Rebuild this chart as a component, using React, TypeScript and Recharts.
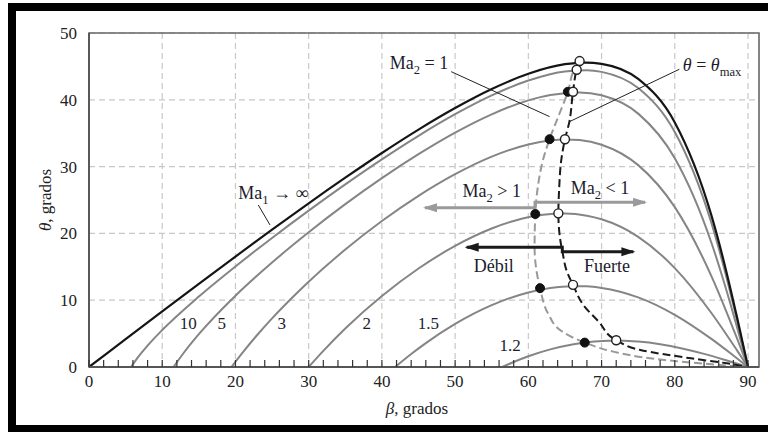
import React from 'react';
import {
  ComposedChart,
  Line,
  XAxis,
  YAxis,
  CartesianGrid,
  ReferenceLine,
  ReferenceDot,
  ReferenceArea,
} from 'recharts';

const FONT = '"Liberation Serif", "Times New Roman", "DejaVu Serif", serif';

// ---------- data: [beta (deg), theta (deg)] ----------
type P = [number, number];

const curveMaInf: P[] = [
  [0, 0], [5, 4.16], [10, 8.32], [15, 12.44], [20, 16.53], [25, 20.56], [30, 24.51],
  [35, 28.34], [40, 32.04], [45, 35.54], [50, 38.76], [55, 41.61], [60, 43.9],
  [65, 45.33], [67.8, 45.58], [70, 45.39], [75, 43.12], [80, 36.61], [85, 22.69],
  [87, 14.46], [88.5, 7.43], [90, 0],
];
const curveMa10: P[] = [
  [5.74, 0], [6.5, 1.19], [8, 3.2], [10, 5.53], [15, 10.54], [20, 15.05], [25, 19.32],
  [30, 23.41], [35, 27.34], [40, 31.09], [45, 34.61], [50, 37.84], [55, 40.66],
  [60, 42.88], [65, 44.24], [68, 44.42], [70, 44.18], [75, 41.76], [80, 35.17],
  [85, 21.55], [87, 13.67], [88.5, 7.01], [90, 0],
];
const curveMa5: P[] = [
  [11.54, 0], [13, 2.21], [15, 4.91], [20, 10.67], [25, 15.64], [30, 20.17], [35, 24.38],
  [40, 28.28], [45, 31.86], [50, 35.09], [55, 37.83], [60, 39.92], [63, 40.73],
  [67, 41.11], [70, 40.68], [75, 37.93], [80, 31.25], [85, 18.6], [87, 11.68],
  [88.5, 5.96], [90, 0],
];
const curveMa3: P[] = [
  [19.47, 0], [21, 2.18], [23, 4.83], [25, 7.28], [30, 12.77], [35, 17.58], [40, 21.85],
  [45, 25.62], [50, 28.86], [55, 31.49], [60, 33.32], [63, 33.92], [65, 34.07],
  [67, 33.97], [70, 33.28], [75, 30.22], [80, 23.93], [85, 13.6], [87, 8.42],
  [88.5, 4.27], [90, 0],
];
const curveMa2: P[] = [
  [30, 0], [32, 2.41], [35, 5.75], [40, 10.62], [45, 14.74], [50, 18.13], [55, 20.73],
  [58, 21.86], [62, 22.78], [65, 22.97], [68, 22.65], [70, 22.11], [75, 19.49],
  [80, 14.81], [85, 8.08], [87, 4.94], [88.5, 2.49], [90, 0],
];
const curveMa15: P[] = [
  [41.81, 0], [44, 1.95], [46, 3.58], [50, 6.45], [55, 9.26], [60, 11.16], [63, 11.82],
  [66, 12.1], [68, 12.07], [70, 11.84], [75, 10.43], [80, 7.82], [85, 4.21],
  [88, 1.72], [90, 0],
];
const curveMa12: P[] = [
  [56.44, 0], [58, 0.75], [60, 1.61], [63, 2.64], [66, 3.37], [69, 3.8], [71, 3.93],
  [73, 3.93], [75, 3.8], [78, 3.4], [81, 2.77], [84, 1.96], [87, 1.01], [90, 0],
];

// Ma2 = 1 line (gray dashed) and theta = theta_max line (black dashed)
const sonicLine: P[] = [
  [66.8, 45.6], [66.2, 44.4], [65.4, 41.2], [64.2, 37.8], [62.9, 34.1], [62.0, 31.0],
  [61.3, 27.0], [60.95, 22.9], [60.85, 18.0], [61.1, 14.5], [61.6, 11.8], [62.7, 8.0],
  [64.5, 5.4], [67.7, 3.65], [71.6, 2.3], [76.6, 1.3], [83.4, 0.55], [90, 0],
];
const maxLine: P[] = [
  [67.0, 45.8], [66.6, 44.5], [66.1, 41.2], [65.6, 36.7], [65.0, 34.1], [64.5, 31.0],
  [64.2, 26.5], [64.1, 23.0], [64.3, 19.5], [64.7, 17.0], [65.2, 14.5], [66.1, 12.3],
  [67.5, 9.3], [69.6, 6.8], [72.0, 4.0], [75.3, 2.55], [82.2, 1.3], [87.1, 0.55],
  [90, 0],
];
const sonicPoints: P[] = [
  [65.4, 41.2], [62.9, 34.1], [60.95, 22.9], [61.6, 11.8], [67.7, 3.65],
];
const maxPoints: P[] = [
  [67.0, 45.8], [66.6, 44.5], [66.1, 41.2], [65.0, 34.1], [64.1, 23.0], [66.1, 12.3],
  [72.0, 4.0],
];

// arrows
const arrowMa2: P[] = [[45.89, 23.85], [60.91, 23.85], [60.91, 24.66], [75.94, 24.66]];
const arrowWeakStrong: P[] = [[51.58, 17.92], [64.64, 17.92], [64.64, 17.26], [74.34, 17.26]];

// leader lines
const leaderMa2: P[] = [[49.47, 44.21], [62.9, 37.48]];
const leaderMax: P[] = [[80.62, 44.57], [65.6, 36.72]];
const leaderInf: P[] = [[23.12, 24.25], [24.72, 21.26]];

// ticks
const xTicks = [0, 10, 20, 30, 40, 50, 60, 70, 80, 90];
const xMinorTicks = [
  0, 2, 4, 6, 8, 10, 12, 14, 16, 18, 20, 22, 24, 26, 28, 30, 32, 34, 36, 38, 40, 42, 44,
  46, 48, 50, 52, 54, 56, 58, 60, 62, 64, 66, 68, 70, 72, 74, 76, 78, 80, 82, 84, 86, 88, 90,
];
const yTicks = [0, 10, 20, 30, 40, 50];

// curve labels
const curveLabels = ['10', '5', '3', '2', '1.5', '1.2'];
const curveLabelPos: P[] = [[13.56, 6.44], [18.12, 6.44], [26.32, 6.44], [37.93, 6.44], [46.34, 6.44], [57.5, 3.19]];

const toPts = (arr: P[]) => arr.map(([b, t]) => ({ b, t }));

type Part = { t: string; sub?: boolean; it?: boolean };

const renderParts = (parts: Part[], size: number) => {
  let shifted = false;
  return parts.map((p, i) => {
    let dy: number | undefined;
    if (p.sub && !shifted) {
      dy = 5;
      shifted = true;
    } else if (!p.sub && shifted) {
      dy = -5;
      shifted = false;
    }
    return (
      <tspan
        key={i}
        dy={dy}
        fontSize={p.sub ? size * 0.7 : size}
        fontStyle={p.it ? 'italic' : 'normal'}
      >
        {p.t}
      </tspan>
    );
  });
};

const AnnText = (props: any) => {
  const { viewBox, parts, size = 18 } = props;
  if (!viewBox) return null;
  const cx = viewBox.x + (viewBox.width || 0) / 2;
  const cy = viewBox.y + (viewBox.height || 0) / 2;
  return (
    <text x={cx} y={cy + 5.5} textAnchor="middle" fontFamily={FONT} fontSize={size} fill="#1c1c2c">
      {renderParts(parts, size)}
    </text>
  );
};

const annotations: { pos: P; parts: Part[] }[] = [
  { pos: [45.07, 45.46], parts: [{ t: 'Ma' }, { t: '2', sub: true }, { t: '\u00a0=\u00a01' }] },
  { pos: [85.09, 45.06], parts: [{ t: 'θ', it: true }, { t: '\u00a0=\u00a0' }, { t: 'θ', it: true }, { t: 'max', sub: true }] },
  { pos: [25.17, 26.0], parts: [{ t: 'Ma' }, { t: '1', sub: true }, { t: '\u00a0→\u00a0∞' }] },
  { pos: [55.0, 26.24], parts: [{ t: 'Ma' }, { t: '2', sub: true }, { t: '\u00a0>\u00a01' }] },
  { pos: [69.79, 26.65], parts: [{ t: 'Ma' }, { t: '2', sub: true }, { t: '\u00a0<\u00a01' }] },
  { pos: [55.27, 15.01], parts: [{ t: 'Débil' }] },
  { pos: [70.75, 15.01], parts: [{ t: 'Fuerte' }] },
];

const XTick = (props: any) => {
  const { x, y, payload } = props;
  const v = payload.value;
  return (
    <g>
      <line x1={x} x2={x} y1={y} y2={y - 7} stroke="#333" strokeWidth={1.2} />
      {xTicks.includes(v) && (
        <text x={x} y={y + 20} textAnchor="middle" fontFamily={FONT} fontSize={17} fill="#222">
          {v}
        </text>
      )}
    </g>
  );
};

const XLabel = (props: any) => {
  const { viewBox } = props;
  if (!viewBox) return null;
  const x = viewBox.x + viewBox.width / 2 - 7;
  const y = viewBox.y + 47;
  return (
    <text x={x} y={y} textAnchor="middle" fontFamily={FONT} fontSize={17} fill="#222">
      <tspan fontStyle="italic">β</tspan>
      <tspan>, grados</tspan>
    </text>
  );
};

const YLabel = (props: any) => {
  const { viewBox } = props;
  if (!viewBox) return null;
  const x = viewBox.x + 51;
  const y = viewBox.y + viewBox.height / 2;
  return (
    <text
      x={x}
      y={y}
      textAnchor="middle"
      fontFamily={FONT}
      fontSize={17}
      fill="#222"
      transform={`rotate(-90, ${x}, ${y})`}
    >
      <tspan fontStyle="italic">θ</tspan>
      <tspan>, grados</tspan>
    </text>
  );
};

const arrowDot = (color: string, n: number) => (props: any) => {
  const { cx, cy, index } = props;
  if (index === 0) {
    return (
      <polygon
        key={`ad-${index}`}
        points={`${cx - 2},${cy} ${cx + 12},${cy - 4.5} ${cx + 12},${cy + 4.5}`}
        fill={color}
      />
    );
  }
  if (index === n - 1) {
    return (
      <polygon
        key={`ad-${index}`}
        points={`${cx + 2},${cy} ${cx - 12},${cy - 4.5} ${cx - 12},${cy + 4.5}`}
        fill={color}
      />
    );
  }
  return <g key={`ad-${index}`} />;
};

const grayCurves = [curveMa10, curveMa5, curveMa3, curveMa2, curveMa15, curveMa12];

export default function App() {
  return (
    <div style={{ position: 'fixed', left: 0, top: 0, width: 768, height: 432, background: '#fff' }}>
      <ComposedChart width={768} height={432} margin={{ top: 33, right: 9, bottom: 0, left: 0 }}>
        <CartesianGrid
          stroke="#c8c8c8"
          strokeDasharray="6 4"
          strokeWidth={1.2}
          verticalValues={xTicks}
          horizontalValues={yTicks}
        />
        <XAxis
          dataKey="b"
          type="number"
          domain={[0, 91.5]}
          ticks={xMinorTicks}
          interval={0}
          allowDataOverflow
          tickLine={false}
          tickSize={0}
          tickMargin={0}
          tick={<XTick />}
          height={65}
          axisLine={{ stroke: '#555', strokeWidth: 1.8 }}
          label={<XLabel />}
        />
        <YAxis
          dataKey="t"
          type="number"
          domain={[0, 50]}
          ticks={yTicks}
          interval={0}
          allowDataOverflow
          tickLine={false}
          tickMargin={6}
          width={89}
          axisLine={{ stroke: '#555', strokeWidth: 1.8 }}
          tick={{ fontFamily: FONT, fontSize: 17, fill: '#222' }}
          label={<YLabel />}
        />
        <ReferenceArea
          x1={0}
          x2={91.5}
          y1={0}
          y2={50}
          fill="none"
          stroke="#666"
          strokeWidth={1.6}
          ifOverflow="visible"
        />

        {grayCurves.map((c, i) => (
          <Line
            key={`g${i}`}
            data={toPts(c)}
            dataKey="t"
            type="monotone"
            stroke="#858585"
            strokeWidth={2}
            dot={false}
            activeDot={false}
            isAnimationActive={false}
          />
        ))}
        <Line
          data={toPts(curveMaInf)}
          dataKey="t"
          type="monotone"
          stroke="#151515"
          strokeWidth={2.2}
          dot={false}
          activeDot={false}
          isAnimationActive={false}
        />

        <Line
          data={toPts(sonicLine)}
          dataKey="t"
          type="monotoneY"
          stroke="#9a9a9a"
          strokeWidth={2}
          strokeDasharray="8 4"
          dot={false}
          activeDot={false}
          isAnimationActive={false}
        />
        <Line
          data={toPts(maxLine)}
          dataKey="t"
          type="monotoneY"
          stroke="#1a1a1a"
          strokeWidth={2}
          strokeDasharray="8 4"
          dot={false}
          activeDot={false}
          isAnimationActive={false}
        />

        {[leaderMa2, leaderMax, leaderInf].map((s, i) => (
          <ReferenceLine
            key={`l${i}`}
            segment={[{ x: s[0][0], y: s[0][1] }, { x: s[1][0], y: s[1][1] }]}
            stroke="#222"
            strokeWidth={1}
            ifOverflow="visible"
          />
        ))}

        <Line
          data={toPts(arrowMa2)}
          dataKey="t"
          type="linear"
          stroke="#9a9a9a"
          strokeWidth={3}
          dot={arrowDot('#9a9a9a', arrowMa2.length)}
          activeDot={false}
          isAnimationActive={false}
        />
        <Line
          data={toPts(arrowWeakStrong)}
          dataKey="t"
          type="linear"
          stroke="#1a1a1a"
          strokeWidth={3}
          dot={arrowDot('#1a1a1a', arrowWeakStrong.length)}
          activeDot={false}
          isAnimationActive={false}
        />

        <Line
          data={toPts(sonicPoints)}
          dataKey="t"
          stroke="none"
          dot={{ r: 4.5, fill: '#111', stroke: '#111', strokeWidth: 1 }}
          activeDot={false}
          isAnimationActive={false}
        />
        <Line
          data={toPts(maxPoints)}
          dataKey="t"
          stroke="none"
          dot={{ r: 4.5, fill: '#fff', stroke: '#222', strokeWidth: 1.4 }}
          activeDot={false}
          isAnimationActive={false}
        />

        {annotations.map((a, i) => (
          <ReferenceDot
            key={`a${i}`}
            x={a.pos[0]}
            y={a.pos[1]}
            r={1}
            fill="none"
            stroke="none"
            ifOverflow="visible"
            label={<AnnText parts={a.parts} />}
          />
        ))}
        {curveLabels.map((lab, i) => (
          <ReferenceDot
            key={`c${i}`}
            x={curveLabelPos[i][0]}
            y={curveLabelPos[i][1]}
            r={1}
            fill="none"
            stroke="none"
            ifOverflow="visible"
            label={<AnnText parts={[{ t: lab }]} size={17} />}
          />
        ))}
      </ComposedChart>
      <div
        style={{
          position: 'absolute',
          left: 8,
          top: 3,
          width: 760,
          height: 429,
          boxSizing: 'border-box',
          borderTop: '8px solid #000',
          borderLeft: '8px solid #000',
          borderBottom: '7px solid #000',
          pointerEvents: 'none',
        }}
      />
    </div>
  );
}
